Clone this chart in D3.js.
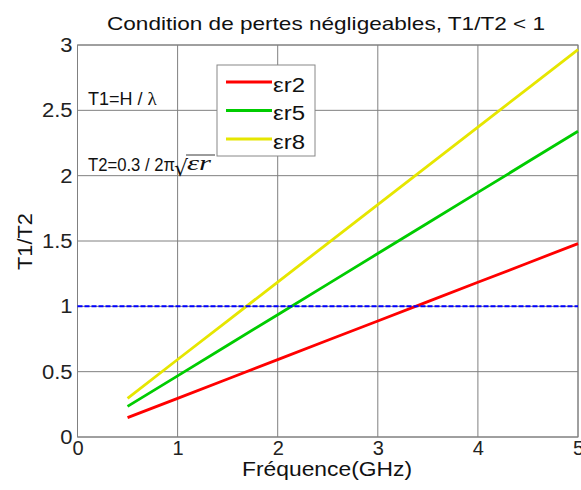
<!DOCTYPE html>
<html><head><meta charset="utf-8">
<script src="https://cdn.jsdelivr.net/npm/d3@7"></script>
<style>body{margin:0;background:#fff}svg{display:block;font-family:"Liberation Sans",Arial,sans-serif}</style>
</head><body><svg id="c" width="581" height="490"></svg>
<script>
const freqs = [0.5,1,1.5,2,2.5,3,3.5,4,4.5,5];
const er2 = [0.148,0.296,0.444,0.592,0.740,0.888,1.036,1.184,1.332,1.480];
const er5 = [0.234,0.468,0.702,0.936,1.170,1.404,1.638,1.872,2.106,2.340];
const er8 = [0.296,0.593,0.889,1.186,1.482,1.779,2.075,2.372,2.668,2.965];
const seriesNames = ["εr2","εr5","εr8"];
const seriesColors = ["#ff0000","#00cc00","#e6e600"];
const limitX = [0,5];
const limitY = [1,1];
const xTicks = [0,1,2,3,4,5];
const yTicks = [0,0.5,1,1.5,2,2.5,3];

const svg = d3.select("#c");
const L=77.5,R=578,T=45,B=437;
const x = d3.scaleLinear().domain([0,5]).range([L,R]);
const y = d3.scaleLinear().domain([0,3]).range([B,T]);

// grid
svg.append("g").selectAll("line").data(xTicks).join("line")
  .attr("x1",d=>x(d)).attr("x2",d=>x(d)).attr("y1",T).attr("y2",B)
  .attr("stroke","#808080").attr("stroke-width",1);
svg.append("g").selectAll("line").data(yTicks).join("line")
  .attr("y1",d=>y(d)).attr("y2",d=>y(d)).attr("x1",L).attr("x2",R)
  .attr("stroke","#808080").attr("stroke-width",1);
svg.append("rect").attr("x",L).attr("y",T).attr("width",R-L).attr("height",B-T)
  .attr("fill","none").attr("stroke","#808080");

// axes tick labels
const xa = d3.axisBottom(x).tickValues(xTicks).tickSize(0).tickPadding(4).tickFormat(d3.format("d"));
const gx = svg.append("g").attr("transform",`translate(0,${B})`).call(xa);
gx.select(".domain").remove();
gx.selectAll("text").attr("font-size",20).attr("fill","#222").attr("font-family","Liberation Sans, Arial");
const ya = d3.axisLeft(y).tickValues(yTicks).tickSize(0).tickPadding(5).tickFormat(d=>String(d));
const gy = svg.append("g").attr("transform",`translate(${L},0)`).call(ya);
gy.select(".domain").remove();
gy.selectAll("text").attr("font-size",20).attr("fill","#222").attr("font-family","Liberation Sans, Arial")
  .attr("textLength",function(){return this.getComputedTextLength()*1.1;}).attr("lengthAdjust","spacingAndGlyphs");

// series
const line = d3.line().x(d=>x(d[0])).y(d=>y(d[1]));
[er2,er5,er8].forEach((vals,i)=>{
  svg.append("path").datum(freqs.map((f,j)=>[f,vals[j]]))
    .attr("d",line).attr("fill","none").attr("stroke",seriesColors[i]).attr("stroke-width",2.8);
});
svg.append("path").datum(limitX.map((f,j)=>[f,limitY[j]]))
  .attr("d",line).attr("fill","none").attr("stroke","#0000ff").attr("stroke-width",2)
  .attr("stroke-dasharray","5,2");

// title and axis titles
svg.append("text").attr("x",107).attr("y",30)
  .attr("font-size",19).attr("fill","#111").attr("textLength",438).attr("lengthAdjust","spacingAndGlyphs")
  .text("Condition de pertes négligeables, T1/T2 < 1");
svg.append("text").attr("x",242).attr("y",476)
  .attr("font-size",21).attr("fill","#111").attr("textLength",170).attr("lengthAdjust","spacingAndGlyphs")
  .text("Fréquence(GHz)");
svg.append("text").attr("transform","translate(32,270) rotate(-90)")
  .attr("font-size",20).attr("fill","#111").attr("textLength",57).attr("lengthAdjust","spacingAndGlyphs")
  .text("T1/T2");

// annotations
const t1 = svg.append("text").attr("x",88).attr("y",105).attr("font-size",18).attr("fill","#111");
t1.append("tspan").text("T1=H / ");
t1.append("tspan").attr("font-family","Liberation Serif, serif").attr("font-size",19).text("λ");
const t2 = svg.append("text").attr("x",88).attr("y",171).attr("font-size",18).attr("fill","#111");
t2.append("tspan").attr("textLength",87).attr("lengthAdjust","spacingAndGlyphs").text("T2=0.3 / 2π");
t2.append("tspan").attr("x",174).attr("dy",5).attr("font-family","DejaVu Sans, sans-serif")
  .attr("font-size",22).text("√");
t2.append("tspan").attr("x",187).attr("dy",-6).attr("font-family","Liberation Serif, serif")
  .attr("font-style","italic").attr("font-size",22).attr("textLength",24).attr("lengthAdjust","spacingAndGlyphs").text("εr");
svg.append("line").attr("x1",186).attr("x2",215).attr("y1",155).attr("y2",155).attr("stroke","#222").attr("stroke-width",0.9);

// legend
const lg = svg.append("g");
lg.append("rect").attr("x",217).attr("y",65).attr("width",98).attr("height",91)
  .attr("fill","#fff").attr("stroke","#888");
seriesNames.forEach((n,i)=>{
  const yy = 82 + i*28.5;
  lg.append("line").attr("x1",226).attr("x2",272).attr("y1",yy).attr("y2",yy)
    .attr("stroke",seriesColors[i]).attr("stroke-width",2.8);
  lg.append("text").attr("x",273).attr("y",yy+9.5).attr("font-size",20).attr("fill","#111")
    .attr("textLength",32).attr("lengthAdjust","spacingAndGlyphs").text(n);
});
</script></body></html>
